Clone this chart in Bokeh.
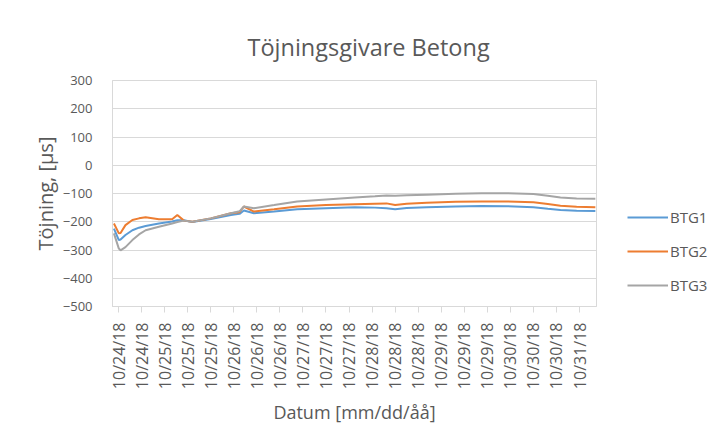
from math import pi

from bokeh.embed import file_html
from bokeh.models import (ColumnDataSource, FixedTicker, Legend, LegendItem,
                          Range1d)
from bokeh.plotting import figure
from bokeh.resources import INLINE

# Hours since 10/24/18 00:00 for each reading
hours = [6.4, 8.1, 8.7, 10.4, 12.8, 15.1, 17.4, 22.0, 26.6, 28.4, 30.7, 33.6,
         40, 47, 50, 51.5, 55, 62, 70, 80, 90, 97, 101, 104, 108, 115, 125,
         134, 143, 152, 157, 161.4, 167, 173.5]

# Strain readings, microstrain
btg1 = [-224, -265, -263, -247, -230, -221, -215, -206, -199, -195, -195, -201,
        -190, -176, -172, -160, -170, -164, -156, -152, -149, -150, -152, -156,
        -151, -149, -146, -144, -145, -149, -154, -158, -161, -162]
btg2 = [-206, -241, -240, -212, -194, -188, -184, -191, -191, -176, -196, -200,
        -188, -170, -166, -146, -164, -156, -146, -141, -138, -136, -135, -141,
        -136, -133, -129, -128, -128, -131, -137, -143, -147, -149]
btg3 = [-241, -295, -301, -290, -265, -245, -230, -218, -206, -201, -196, -200,
        -188, -170, -163, -146, -152, -141, -128, -121, -114, -110, -107, -108,
        -106, -104, -101, -99, -99, -102, -108, -114, -118, -119]

series_names = ["BTG1", "BTG2", "BTG3"]
series_colors = ["#5B9BD5", "#ED7D31", "#A5A5A5"]

# Category-style date ticks every 8 hours
tick_hours = [8 + 8 * i for i in range(21)]
tick_labels = ["10/24/18", "10/24/18",
               "10/25/18", "10/25/18", "10/25/18",
               "10/26/18", "10/26/18", "10/26/18",
               "10/27/18", "10/27/18", "10/27/18",
               "10/28/18", "10/28/18", "10/28/18",
               "10/29/18", "10/29/18", "10/29/18",
               "10/30/18", "10/30/18", "10/30/18",
               "10/31/18"]

y_ticks = [300, 200, 100, 0, -100, -200, -300, -400, -500]

FONT = "Open Sans"
TEXT = "#595959"
GRID = "#D9D9D9"

source = ColumnDataSource(dict(h=hours, BTG1=btg1, BTG2=btg2, BTG3=btg3))

p = figure(frame_width=484, frame_height=226, output_backend="svg",
           toolbar_location=None,
           x_range=Range1d(5.9, 173.9), y_range=Range1d(-500, 300),
           min_border_left=112, min_border_right=122,
           min_border_top=80, min_border_bottom=132)

p.title.text = "Töjningsgivare Betong"
p.title.text_font = FONT
p.title.text_font_size = "23.5px"
p.title.text_font_style = "normal"
p.title.text_color = TEXT
p.title.align = "left"
p.title.offset = 135
p.title.standoff = 36

p.outline_line_color = GRID
p.background_fill_color = "white"
p.border_fill_color = "white"
p.styles = {"outline": "1px solid #d9d9d9", "outline-offset": "-7px"}

# Axes
p.xaxis.ticker = FixedTicker(ticks=tick_hours)
p.xaxis.major_label_overrides = {h: lab for h, lab in zip(tick_hours, tick_labels)}
p.xaxis.major_label_orientation = pi / 2
p.xaxis.axis_label = "Datum [mm/dd/åå]"
p.xaxis.major_tick_in = 0
p.xaxis.major_tick_out = 6
p.xaxis.minor_tick_out = 0
p.xaxis.minor_tick_in = 0
p.xaxis.major_label_standoff = 10
p.xaxis.axis_label_standoff = 8

p.yaxis.ticker = FixedTicker(ticks=y_ticks)
p.yaxis.axis_label = "Töjning, [µs]"
p.yaxis.major_tick_in = 0
p.yaxis.major_tick_out = 0
p.yaxis.minor_tick_in = 0
p.yaxis.minor_tick_out = 0
p.yaxis.major_label_standoff = 20
p.yaxis.axis_label_standoff = 1

for ax in (p.xaxis, p.yaxis):
    ax.axis_line_color = GRID
    ax.major_tick_line_color = GRID
    ax.major_label_text_color = TEXT
    ax.major_label_text_font = FONT
    ax.axis_label_text_font = FONT
    ax.axis_label_text_color = TEXT
    ax.axis_label_text_font_style = "normal"
    ax.axis_label_text_font_size = "18px"
p.yaxis.axis_label_text_font_size = "20px"
p.xaxis.major_label_text_font_size = "16px"
p.yaxis.major_label_text_font_size = "13px"

p.xgrid.grid_line_color = None
p.ygrid.grid_line_color = GRID
p.ygrid.ticker = FixedTicker(ticks=y_ticks)

items = []
for name, color in zip(series_names, series_colors):
    r = p.line("h", name, source=source, line_color=color, line_width=2)
    items.append(LegendItem(label=name, renderers=[r]))

# Legend in the right margin, offset from the frame's right edge
legend = Legend(items=items, location=(31, 11), orientation="vertical",
                padding=0, margin=0, spacing=14, glyph_width=41,
                glyph_height=20, label_height=20, label_standoff=2,
                label_text_font=FONT, label_text_font_size="15px",
                label_text_color=TEXT, border_line_color=None,
                background_fill_alpha=0)
p.add_layout(legend, "right")

open("out.html", "w").write(file_html(p, INLINE))
